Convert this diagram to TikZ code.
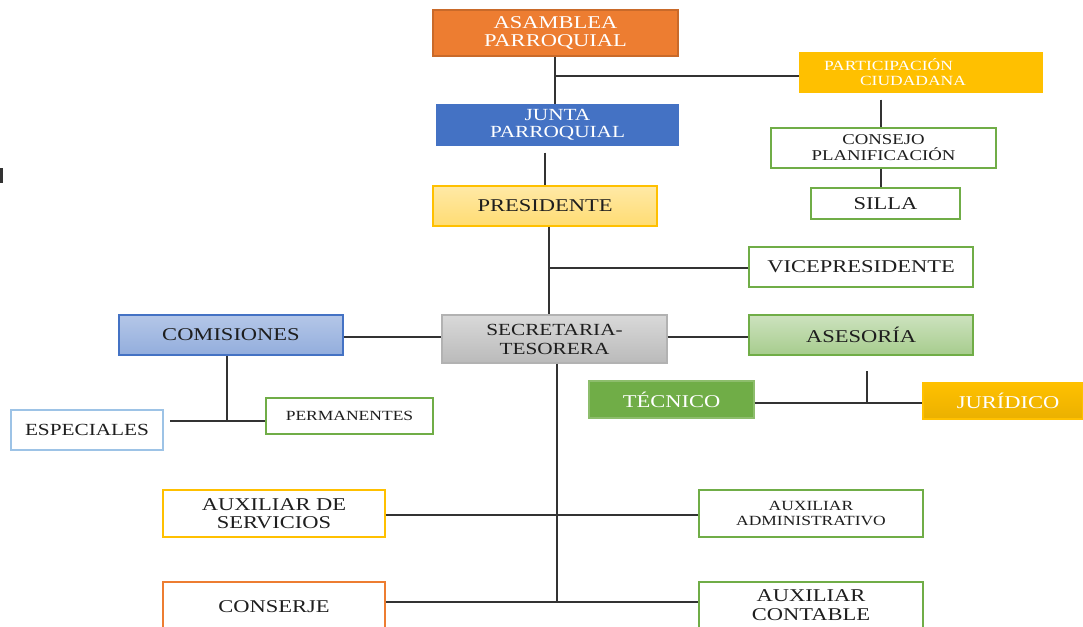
\documentclass[tikz,border=0pt]{standalone}
\usepackage{fontspec}
\setmainfont[FakeStretch=1.25]{Liberation Serif}
\definecolor{naranja}{HTML}{ED7D31}
\definecolor{azul}{HTML}{4472C4}
\definecolor{oro}{HTML}{FFC000}
\definecolor{verde}{HTML}{70AD47}
\definecolor{celeste}{HTML}{9DC3E6}
\definecolor{texto}{HTML}{1E1E1E}
\definecolor{lineacol}{HTML}{333333}
\tikzset{
  caja/.style={draw, rectangle, line width=1.2pt, inner sep=0pt, align=center,
    minimum width=224pt, minimum height=40pt, fill=white, text=texto, grande},
  grande/.style={font=\fontsize{18}{18.5}\selectfont},
  mediana/.style={font=\fontsize{17}{19}\selectfont},
  chica/.style={font=\fontsize{14}{15}\selectfont},
  linea/.style={draw=lineacol, line width=1.6pt},
}
\begin{document}
\begin{tikzpicture}[x=1pt, y=-1pt]
\clip (0,0) rectangle (1083,626);
\fill[lineacol] (0,168) rectangle (3,183);
% nivel directivo
\node[caja, fill=naranja, draw=naranja!85!black, text=white, minimum width=245pt, minimum height=46pt] (asamblea) at (555.5,33) {ASAMBLEA\\PARROQUIAL};
\node[caja, fill=oro, draw=oro, text=white, chica, minimum width=242pt, minimum height=39pt,
  text width=194pt, align=left] (participacion) at (921,72.5) {PARTICIPACIÓN\\\hspace*{36pt}CIUDADANA};
\node[caja, fill=azul, draw=azul, text=white, font=\fontsize{17}{16.5}\selectfont, minimum width=241pt] (junta) at (557.5,125) {JUNTA\\PARROQUIAL};
\node[caja, draw=verde, font=\fontsize{15}{16}\selectfont, minimum width=225pt] (consejo) at (883.5,148) {CONSEJO\\PLANIFICACIÓN};
\node[caja, draw=verde, minimum width=149pt, minimum height=31pt] (silla) at (885.5,203.5) {SILLA};
\node[caja, top color=oro!35!white, bottom color=oro!55!white, draw=oro] (presidente) at (545,206) {PRESIDENTE};
\node[caja, draw=verde] (vicepresidente) at (861,267) {VICEPRESIDENTE};
% nivel operativo
\node[caja, top color=azul!40!white, bottom color=azul!58!white, draw=azul] (comisiones) at (231,335) {COMISIONES};
\node[caja, top color=black!15, bottom color=black!27, draw=black!30, mediana, minimum width=225pt, minimum height=48pt] (secretaria) at (554.5,339) {SECRETARIA-\\TESORERA};
\node[caja, top color=verde!35!white, bottom color=verde!62!white, draw=verde] (asesoria) at (861,335) {ASESORÍA};
\node[caja, fill=verde, draw=verde!80!white, text=white, minimum width=165pt, minimum height=37pt] (tecnico) at (671.5,399.5) {TÉCNICO};
\node[caja, top color=oro, bottom color=oro!92!black, draw=oro, text=white, minimum width=160pt, minimum height=36pt] (juridico) at (1003,401) {\hspace*{10pt}JURÍDICO};
\node[caja, draw=celeste, font=\fontsize{17}{18}\selectfont, minimum width=152pt] (especiales) at (87,430) {ESPECIALES};
\node[caja, draw=verde, chica, minimum width=167pt, minimum height=36pt] (permanentes) at (349.5,416) {PERMANENTES};
\node[caja, draw=oro, minimum width=222pt, minimum height=47pt] (auxservicios) at (274,513.5) {AUXILIAR DE\\SERVICIOS};
\node[caja, draw=verde, chica, minimum height=47pt] (auxadmin) at (811,513.5) {AUXILIAR\\ADMINISTRATIVO};
\node[caja, draw=naranja, minimum width=222pt, minimum height=50pt] (conserje) at (274,607) {CONSERJE};
\node[caja, draw=verde, minimum height=46pt] (auxcontable) at (811,605) {AUXILIAR\\CONTABLE};
% puntos de union
\coordinate (aa) at (555,76);
\path (participacion.south) ++(0,7) coordinate (pc);
\coordinate (cs) at (881,0);
\coordinate (pv) at (549,268);
\coordinate (sc) at (442,337);
\coordinate (cm) at (227,421);
\coordinate (ce) at (170,421);
\coordinate (as) at (867,371);
\coordinate (aj) at (867,403);
\coordinate (sb) at (557,602);
% conectores
\draw[linea] (asamblea.south -| aa) -- (junta.north -| aa);
\draw[linea] (aa) -- (participacion.west |- aa);
\draw[linea] (pc -| cs) -- (consejo.north -| cs);
\draw[linea] (consejo.south -| cs) -- (silla.north -| cs);
\draw[linea, shorten <=7pt] (junta.south -| presidente.north) -- (presidente.north);
\draw[linea] (presidente.south -| pv) -- (secretaria.north -| pv);
\draw[linea] (pv) -- (vicepresidente.west |- pv);
\draw[linea] (comisiones.east |- sc) -- (secretaria.west |- sc);
\draw[linea] (secretaria.east |- sc) -- (asesoria.west |- sc);
\draw[linea] (comisiones.south -| cm) -- (cm);
\draw[linea] (ce) -- (permanentes.west |- cm);
\draw[linea] (as) -- (aj);
\draw[linea] (tecnico.east |- aj) -- (juridico.west |- aj);
\draw[linea] (secretaria.south -| sb) -- (sb);
\draw[linea] (auxservicios.east |- 0,515) -- (auxadmin.west |- 0,515);
\draw[linea] (conserje.east |- sb) -- (auxcontable.west |- sb);
\end{tikzpicture}
\end{document}
